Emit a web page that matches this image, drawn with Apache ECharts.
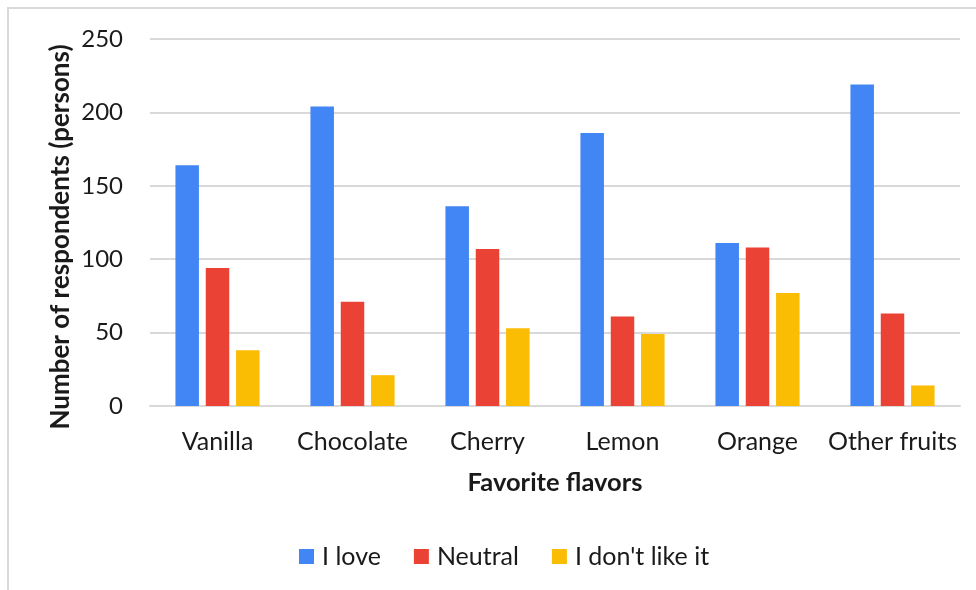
<!DOCTYPE html>
<html>
<head>
<meta charset="utf-8">
<script src="https://cdn.jsdelivr.net/npm/echarts@6/dist/echarts.min.js"></script>
<style>
  html, body { margin: 0; padding: 0; background: #ffffff; }
  #chart { width: 976px; height: 590px; }
</style>
</head>
<body>
<div id="chart"></div>
<script>
// Survey results: favourite flavours by attitude
const categories = ['Vanilla', 'Chocolate', 'Cherry', 'Lemon', 'Orange', 'Other fruits'];
const loveValues = [164, 204, 136, 186, 111, 219];
const neutralValues = [94, 71, 107, 61, 108, 63];
const dislikeValues = [38, 21, 53, 49, 77, 14];
const seriesNames = ['I love', 'Neutral', "I don't like it"];
const yTicks = { min: 0, max: 250, interval: 50 };

const FONT = 'Lato';
const chart = echarts.init(document.getElementById('chart'), null, { renderer: 'canvas' });

const barSeries = (name, data, color) => ({
  name: name,
  type: 'bar',
  data: data,
  barWidth: 23.5,
  barGap: '29%',
  itemStyle: { color: color },
  emphasis: { disabled: true }
});

chart.setOption({
  animation: false,
  backgroundColor: '#ffffff',
  textStyle: { fontFamily: FONT, color: '#1a1a1a' },
  graphic: [
    {
      type: 'rect',
      shape: { x: 8, y: 8, width: 1000, height: 1000 },
      style: { fill: 'none', stroke: '#d9d9d9', lineWidth: 2 },
      silent: true
    },
    {
      type: 'text',
      x: 61, y: 237,
      rotation: Math.PI / 2,
      style: {
        text: 'Number of respondents (persons)',
        font: 'bold 26px ' + FONT,
        fill: '#1a1a1a',
        align: 'center',
        verticalAlign: 'middle'
      },
      silent: true
    }
  ],
  grid: { left: 150, right: 16, top: 39, bottom: 184, containLabel: false },
  legend: {
    left: 294,
    top: 539,
    itemWidth: 15,
    itemHeight: 15,
    itemGap: 33,
    icon: 'rect',
    textStyle: { fontFamily: FONT, fontSize: 25, color: '#1a1a1a', padding: [0, 0, 0, 3] },
    data: seriesNames
  },
  xAxis: {
    type: 'category',
    data: categories,
    name: 'Favorite flavors',
    nameLocation: 'middle',
    nameGap: 64,
    nameTextStyle: { fontFamily: FONT, fontSize: 25.5, fontWeight: 'bold', color: '#1a1a1a' },
    axisLine: { show: true, lineStyle: { color: '#d9d9d9', width: 2 } },
    axisTick: { show: false },
    axisLabel: { fontFamily: FONT, fontSize: 25, color: '#1a1a1a', margin: 23, interval: 0 }
  },
  yAxis: {
    type: 'value',
    min: yTicks.min,
    max: yTicks.max,
    interval: yTicks.interval,
    axisLine: { show: false },
    axisTick: { show: false },
    splitLine: { lineStyle: { color: '#d9d9d9', width: 2 } },
    axisLabel: { fontFamily: FONT, fontSize: 24, color: '#1a1a1a', margin: 27 }
  },
  series: [
    barSeries(seriesNames[0], loveValues, '#4285F4'),
    barSeries(seriesNames[1], neutralValues, '#EA4335'),
    barSeries(seriesNames[2], dislikeValues, '#FBBC04')
  ]
});
</script>
</body>
</html>
